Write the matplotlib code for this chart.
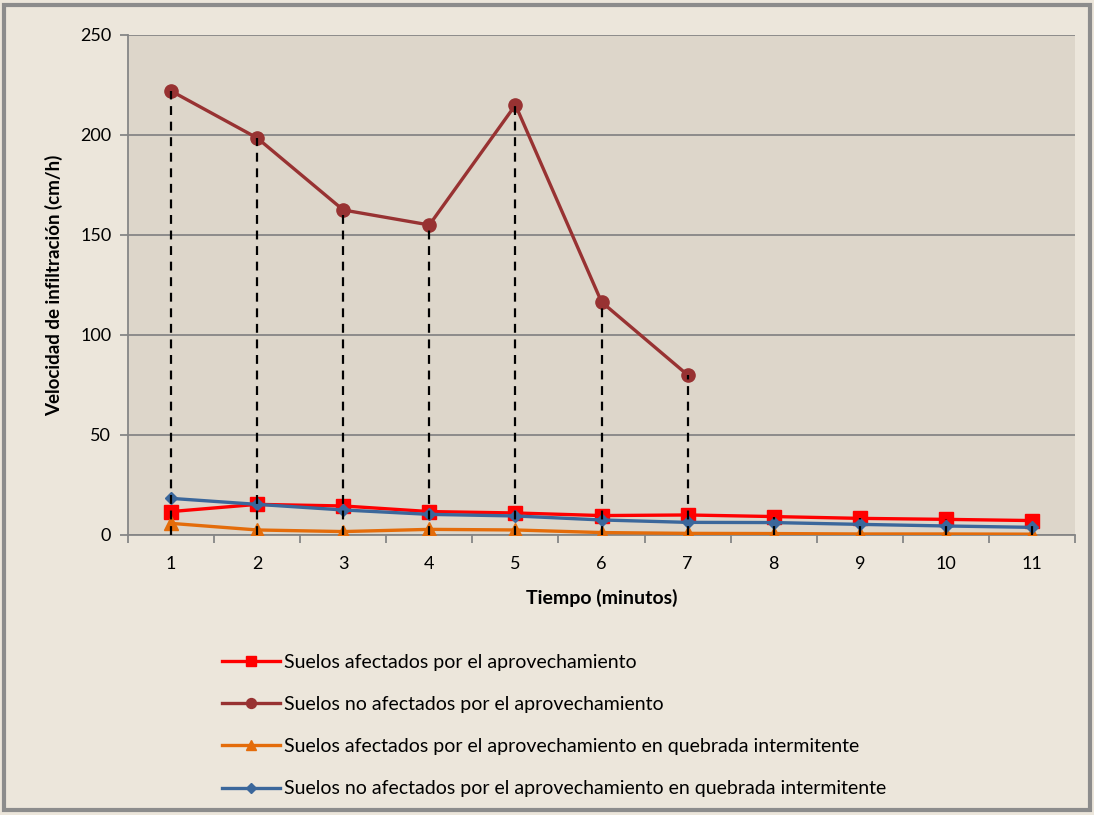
import numpy as np
import matplotlib.pyplot as plt
from matplotlib.patches import FancyBboxPatch

plt.rcParams['font.family'] = ['Lato', 'DejaVu Sans']

# Data
tiempo = [1, 2, 3, 4, 5, 6, 7, 8, 9, 10, 11]
afectados = [11.7, 15.3, 14.5, 11.7, 11.0, 9.7, 10.0, 9.2, 8.3, 7.8, 7.2]
no_afectados = [222, 198.5, 162.5, 155, 215, 116.5, 80]
afectados_queb = [5.8, 2.5, 1.7, 2.8, 2.5, 1.2, 0.8, 0.7, 0.5, 0.5, 0.4]
no_afectados_queb = [18.3, 15.3, 12.5, 10.3, 9.5, 7.5, 6.3, 6.2, 5.3, 4.5, 3.8]

labels = ['Suelos afectados por el aprovechamiento',
          'Suelos no afectados por el aprovechamiento',
          'Suelos afectados por el aprovechamiento en quebrada intermitente',
          'Suelos no afectados por el aprovechamiento en quebrada intermitente']

fig = plt.figure(figsize=(10.94, 8.15), dpi=100)
fig.patch.set_facecolor('#ece6db')

# Frame round the whole chart
frame = FancyBboxPatch((0.004, 0.006), 0.992, 0.988, boxstyle='square,pad=0',
                       transform=fig.transFigure, facecolor='none',
                       edgecolor='#8c8c8c', linewidth=3, zorder=0)
fig.patches.append(frame)

ax = fig.add_axes([0.117, 0.3436, 0.8657, 0.6135])
ax.set_facecolor('#ddd6ca')

ax.plot(tiempo, afectados, color='#ff0000', lw=2.4, marker='s', ms=10,
        label=labels[0], zorder=3)
ax.plot(tiempo[:len(no_afectados)], no_afectados, color='#983232', lw=2.4,
        marker='o', ms=9.5, label=labels[1], zorder=3)
ax.plot(tiempo, afectados_queb, color='#e46c0a', lw=2.4, marker='^', ms=10,
        label=labels[2], zorder=3)
ax.plot(tiempo, no_afectados_queb, color='#3b679b', lw=2.4, marker='D', ms=6.5,
        label=labels[3], zorder=4)

# Drop lines from the highest point at each minute
tops = [max(afectados[i], afectados_queb[i], no_afectados_queb[i],
            no_afectados[i] if i < len(no_afectados) else 0)
        for i in range(len(tiempo))]
ax.vlines(tiempo, 0, tops, colors='black', linestyles=(0, (4, 3)), lw=1.6, zorder=5)

ax.set_xlim(0.5, 11.5)
ax.set_ylim(0, 250)
ax.set_yticks(np.arange(0, 251, 50))
ax.set_xticks(tiempo)
ax.set_xticks(np.arange(0.5, 11.6, 1), minor=True)
ax.tick_params(axis='x', which='major', length=0, labelsize=13, pad=15)
ax.tick_params(axis='x', which='minor', length=6, color='#868686', width=1.3)
ax.tick_params(axis='y', length=6, color='#868686', width=1.3, labelsize=13, pad=6)
ax.yaxis.grid(True, color='#868686', lw=1.3)
ax.set_axisbelow(True)
for s in ['top', 'right']:
    ax.spines[s].set_visible(False)
for s in ['left', 'bottom']:
    ax.spines[s].set_color('#868686')
    ax.spines[s].set_linewidth(1.3)

ax.set_xlabel('Tiempo (minutos)', fontsize=14, fontweight='bold', labelpad=12)
ax.set_ylabel('Velocidad de infiltración (cm/h)', fontsize=13.5, fontweight='bold', labelpad=12)

fig.legend(loc='upper left', bbox_to_anchor=(0.203, 0.198), frameon=False,
           fontsize=14, handlelength=3.0, labelspacing=1.3, handletextpad=0.2,
           borderaxespad=0, borderpad=0, markerscale=0.75)

fig.savefig('out.png', dpi=100, facecolor=fig.get_facecolor())
